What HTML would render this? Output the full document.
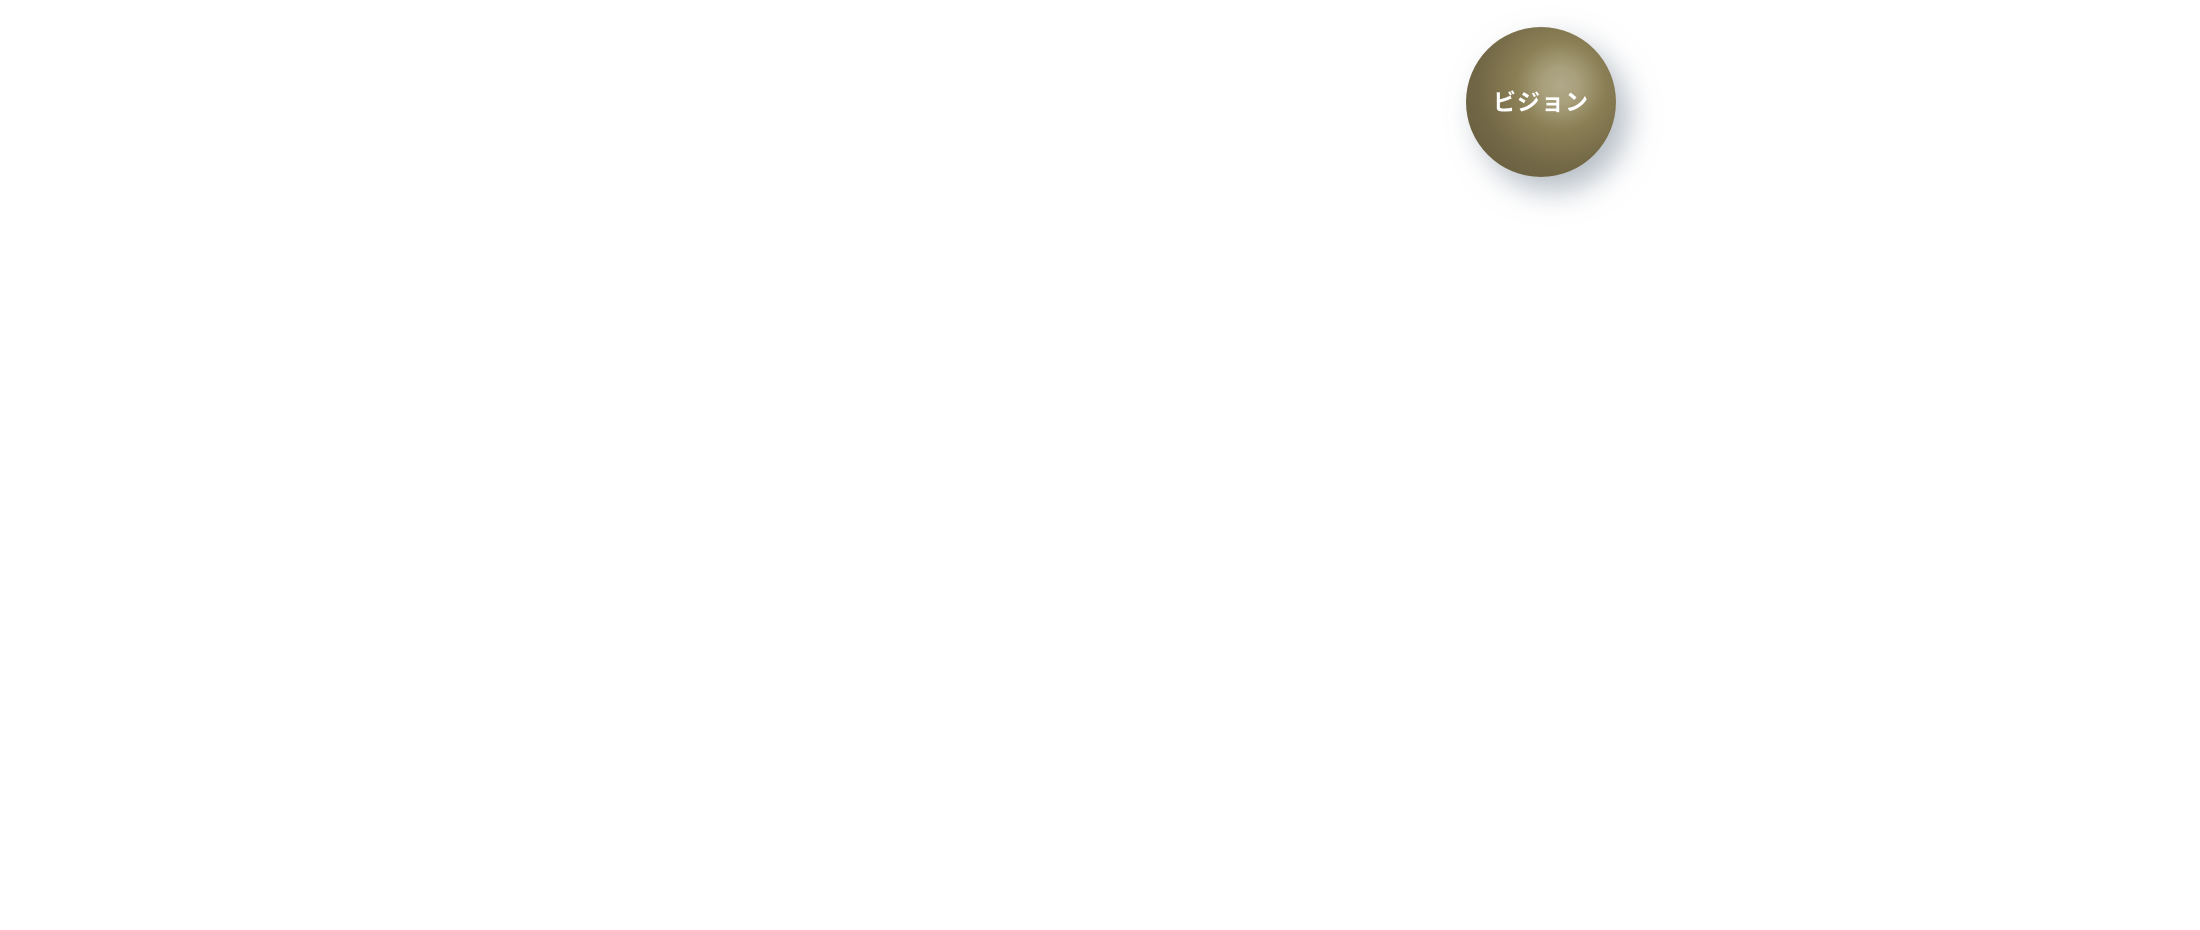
<!DOCTYPE html>
<html><head><meta charset="utf-8"><style>
html,body{margin:0;padding:0;background:#fff;width:2200px;height:930px;overflow:hidden;position:relative}
.s{position:absolute;left:1466px;top:27px;width:150px;height:150px;border-radius:50%;
background:radial-gradient(circle at 63% 39%,#b0a888 0%,#a89f7b 14%,#8a7f55 34%,#736846 62%,#5f5538 100%);
box-shadow:12px 14px 30px rgba(120,135,150,0.55);}
.t{position:absolute;left:1466px;top:27px;width:150px;height:150px;text-align:center;color:#fff;font:bold 23px "Liberation Sans","Noto Sans CJK JP",sans-serif;line-height:150px;letter-spacing:1px}
</style></head><body>
<div class="s"></div><div class="t">ビジョン</div>
</body></html>
